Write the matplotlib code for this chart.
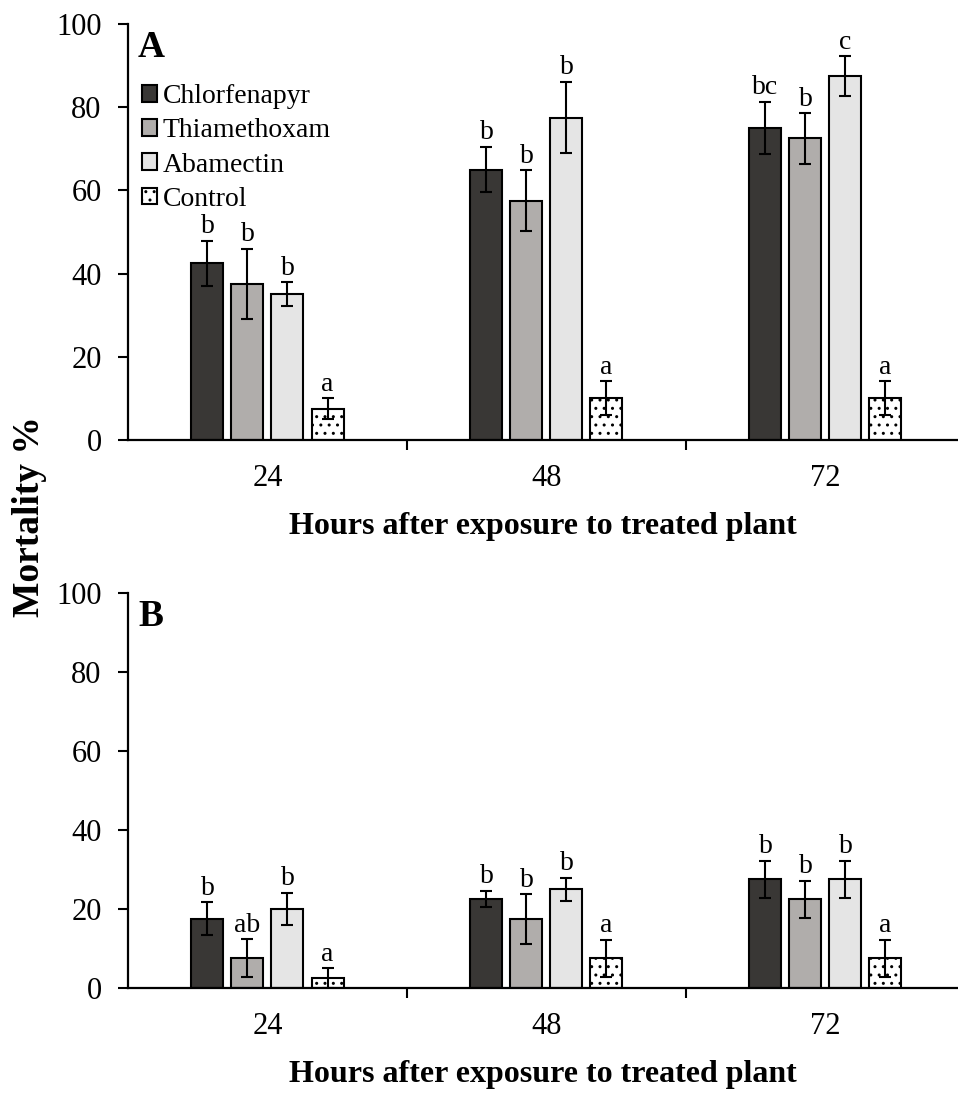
import numpy as np
import matplotlib.pyplot as plt

plt.rcParams['font.family'] = ['Liberation Serif', 'DejaVu Serif']
plt.rcParams['hatch.linewidth'] = 1.0

hours = ['24', '48', '72']
treatments = ['Chlorfenapyr', 'Thiamethoxam', 'Abamectin', 'Control']
colors = ['#393735', '#b0adab', '#e5e5e5', 'white']
hatches = [None, None, None, '..']

# panel A
mean_a = [[42.5, 65, 75],
          [37.5, 57.5, 72.5],
          [35, 77.5, 87.5],
          [7.5, 10, 10]]
err_a = [[5.4, 5.5, 6.3],
         [8.5, 7.3, 6.1],
         [2.9, 8.6, 4.8],
         [2.5, 4.1, 4.1]]
letters_a = [['b', 'b', 'bc'],
             ['b', 'b', 'b'],
             ['b', 'b', 'c'],
             ['a', 'a', 'a']]

# panel B
mean_b = [[17.5, 22.5, 27.5],
          [7.5, 17.5, 22.5],
          [20, 25, 27.5],
          [2.5, 7.5, 7.5]]
err_b = [[4.2, 2.1, 4.7],
         [4.8, 6.3, 4.7],
         [4.1, 2.9, 4.7],
         [2.5, 4.7, 4.7]]
letters_b = [['b', 'b', 'b'],
             ['ab', 'b', 'b'],
             ['b', 'b', 'b'],
             ['a', 'a', 'a']]


def draw_panel(ax, means, errs, letters, panel, legend=False):
    x = np.arange(len(hours))
    step = 0.1434
    width = 0.1147
    for i in range(len(treatments)):
        pos = x + (i - 1.5) * step
        ax.bar(pos, means[i], width, color=colors[i], edgecolor='black',
               linewidth=1.5, hatch=hatches[i], label=treatments[i], zorder=2)
        ax.errorbar(pos, means[i], yerr=errs[i], fmt='none', ecolor='black',
                    elinewidth=1.5, capsize=4, capthick=1.5, zorder=3)
        for j in range(len(hours)):
            ax.annotate(letters[i][j], (pos[j], means[i][j] + errs[i][j]),
                        xytext=(0, 1), textcoords='offset points',
                        ha='center', va='bottom', fontsize=20)
    ax.set_xlim(-0.5, 2.475)
    ax.set_ylim(0, 100)
    ax.set_yticks([0, 20, 40, 60, 80, 100])
    ax.set_xticks(x)
    ax.set_xticklabels(hours)
    ax.set_xticks([0.5, 1.5], minor=True)
    ax.tick_params(axis='x', which='major', length=0, pad=17, labelsize=22)
    ax.tick_params(axis='x', which='minor', length=7, width=1.5, direction='out')
    ax.tick_params(axis='y', length=7, width=1.5, pad=12, labelsize=22)
    for s in ['top', 'right']:
        ax.spines[s].set_visible(False)
    for s in ['left', 'bottom']:
        ax.spines[s].set_linewidth(1.6)
    ax.set_xlabel('Hours after exposure to treated plant', fontsize=23,
                  fontweight='bold', labelpad=14)
    ax.text(0.012, 0.985, panel, transform=ax.transAxes, fontsize=27,
            fontweight='bold', ha='left', va='top')
    if legend:
        ax.legend(loc='upper left', bbox_to_anchor=(0.017, 0.855), frameon=False,
                  fontsize=20, handlelength=0.55, handleheight=0.55,
                  handletextpad=0.2, labelspacing=0.33, borderpad=0,
                  borderaxespad=0)


fig = plt.figure(figsize=(9.58, 11.05), dpi=100)
ax1 = fig.add_axes([128 / 958, 1 - 440 / 1105, 830 / 958, 416 / 1105])
ax2 = fig.add_axes([128 / 958, 1 - 988 / 1105, 830 / 958, 395 / 1105])

draw_panel(ax1, mean_a, err_a, letters_a, 'A', legend=True)
draw_panel(ax2, mean_b, err_b, letters_b, 'B')

fig.text(0.031, 1 - 517 / 1105, 'Mortality %', rotation=90, fontsize=27,
         fontweight='bold', ha='center', va='center')

plt.savefig('out.png', dpi=100)
